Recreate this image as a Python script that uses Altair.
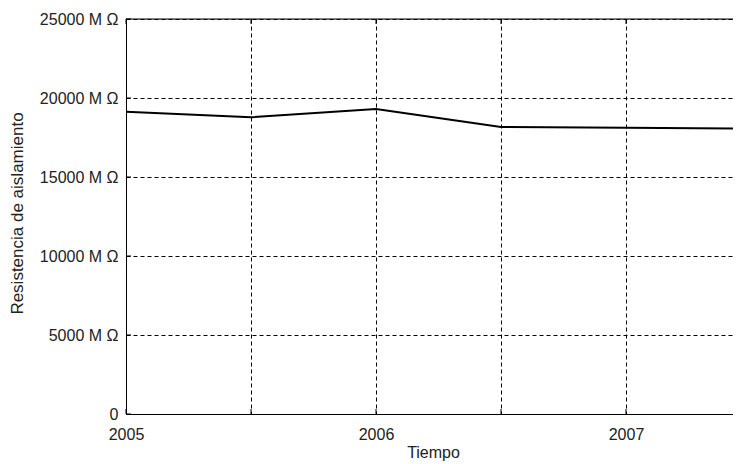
import altair as alt
import pandas as pd

# data
years = [2005.0, 2005.5, 2006.0, 2006.5, 2007.0, 2007.5]
resistance = [19130, 18780, 19300, 18160, 18120, 18070]
x_ticks = [2005.0, 2005.5, 2006.0, 2006.5, 2007.0]
y_ticks = [0, 5000, 10000, 15000, 20000, 25000]
x_domain = [2005.0, 2007.428]
y_domain = [0, 25000]

W, H = 607, 395
FONT = "Liberation Sans"

df = pd.DataFrame({"t": years, "r": resistance})
xt = pd.DataFrame({"t": x_ticks})
yt = pd.DataFrame({"r": y_ticks})

xscale = alt.Scale(domain=x_domain, nice=False, zero=False)
yscale = alt.Scale(domain=y_domain, nice=False)

line = alt.Chart(df).mark_line(color="black", strokeWidth=2, clip=True).encode(
    x=alt.X("t:Q", scale=xscale, title="Tiempo",
            axis=alt.Axis(values=x_ticks, grid=True, gridDash=[4, 3], gridColor="#000",
                          gridWidth=1, ticks=False, tickSize=0, domainColor="#000",
                          labelExpr="datum.value % 1 == 0 ? format(datum.value, 'd') : ''",
                          labelFont=FONT, labelFontSize=16, labelColor="#222",
                          labelPadding=12, labelFlush=False,
                          titleFont=FONT, titleFontSize=16, titleFontWeight="normal",
                          titleColor="#222", titleX=307, titleY=43,
                          titleBaseline="alphabetic", titleAlign="center")),
    y=alt.Y("r:Q", scale=yscale, title="Resistencia de aislamiento",
            axis=alt.Axis(values=y_ticks, grid=True, gridDash=[4, 3], gridColor="#000",
                          gridWidth=1, ticks=False, tickSize=0, domainColor="#000",
                          labelExpr="datum.value == 0 ? '0' : datum.value + ' M Ω'",
                          labelFont=FONT, labelFontSize=16, labelColor="#222",
                          labelPadding=8,
                          titleFont=FONT, titleFontSize=17, titleFontWeight="normal",
                          titleColor="#222", titleX=-100, titleY=194, titleAngle=-90,
                          titleAlign="center", titleBaseline="bottom")),
)

top_border = alt.Chart(pd.DataFrame({"a": [0]})).mark_rule(color="black", strokeWidth=1).encode(
    x=alt.value(0), x2=alt.value(W), y=alt.value(0)
)

xt_bottom = alt.Chart(xt).mark_rule(color="black").encode(
    x=alt.X("t:Q", scale=xscale), y=alt.value(H), y2=alt.value(H - 5)
)
xt_top = alt.Chart(xt).mark_rule(color="black").encode(
    x=alt.X("t:Q", scale=xscale), y=alt.value(0), y2=alt.value(5)
)
yt_left = alt.Chart(yt).mark_rule(color="black").encode(
    y=alt.Y("r:Q", scale=yscale), x=alt.value(0), x2=alt.value(5)
)

chart = alt.layer(line, top_border, xt_bottom, xt_top, yt_left).properties(
    width=W, height=H,
    autosize=alt.AutoSizeParams(type="none"),
    padding={"left": 118, "top": 11, "right": 0, "bottom": 52},
).configure_view(stroke=None).configure(background="white")

chart.save("out.html", embed_options={"renderer": "svg", "actions": False})
